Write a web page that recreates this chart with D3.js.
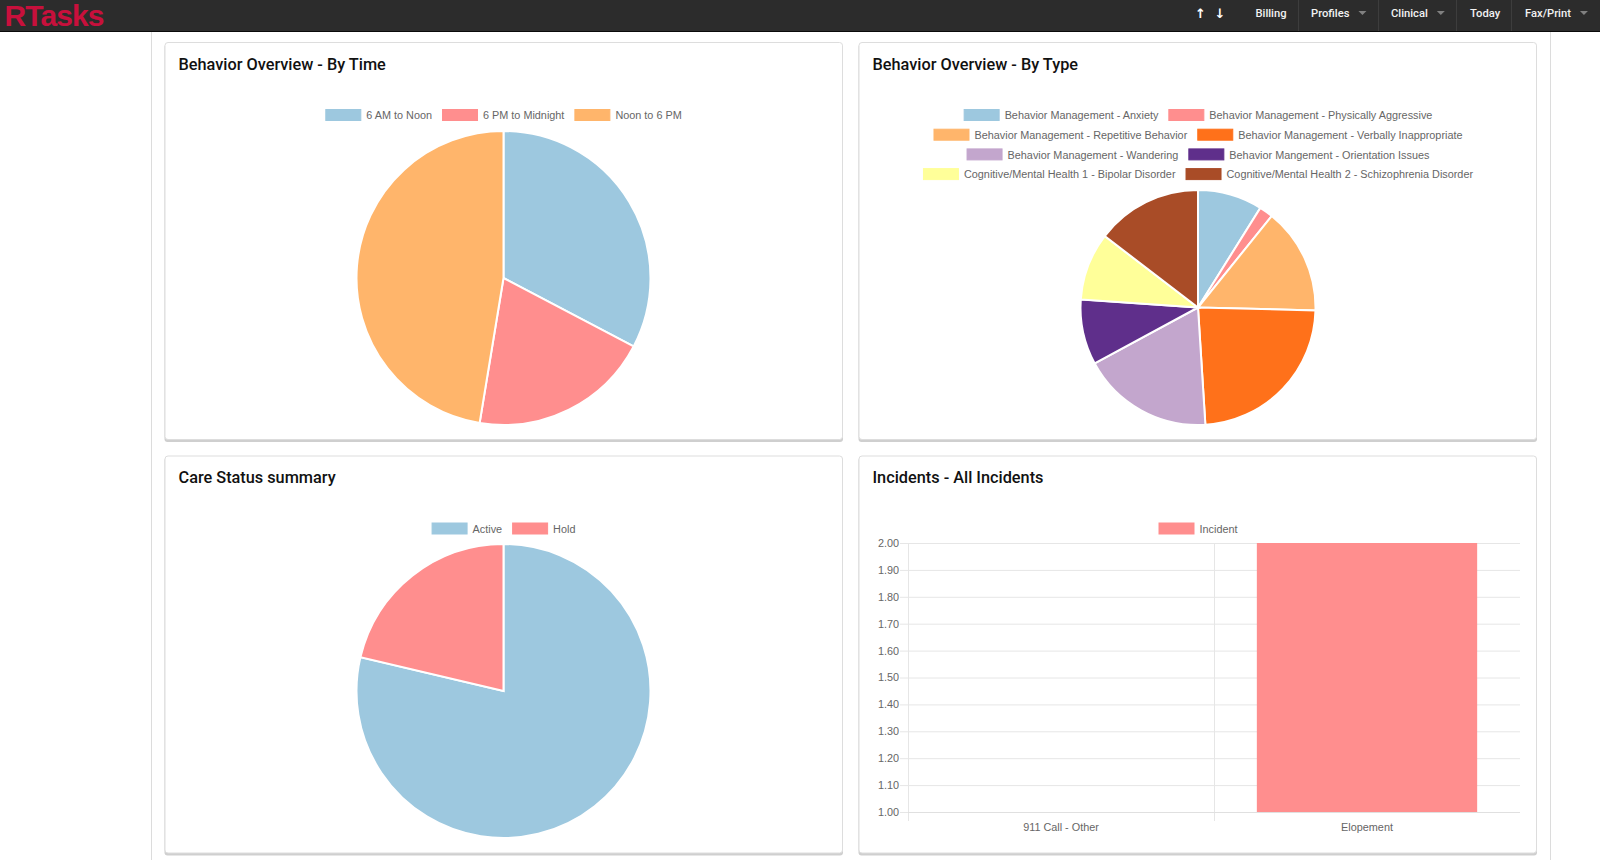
<!DOCTYPE html>
<html>
<head>
<meta charset="utf-8">
<script src="https://cdn.jsdelivr.net/npm/d3@7"></script>
<style>
  html, body { margin: 0; padding: 0; background: #fff; overflow: hidden; }
  text { font-family: "Liberation Sans", Arial, sans-serif; }
  .card-title { font-family: Roboto, sans-serif; font-weight: 500; font-size: 16.3px; fill: #111; }
  .nav-text { font-family: Roboto, sans-serif; font-weight: 500; font-size: 11.2px; fill: #f2f2f2; }
  .legend-text, .tick text { font-size: 10.85px; fill: #666; }
  .grid line { stroke: #e6e6e6; }
  .grid path { display: none; }
</style>
</head>
<body>
<div id="chart"></div>
<script>
// colours shared by the legends and slices
let blue = "#9dc8df", red = "#ff8e8e", orange = "#ffb56b", vermilion = "#ff711a",
    lilac = "#c3a6cd", purple = "#5f2f8b", yellow = "#ffff99", brown = "#a94c27"

// behavior overview - by time
let timeLabels = ["6 AM to Noon", "6 PM to Midnight", "Noon to 6 PM"]
let timeValues = [32.7, 19.9, 47.4]
let timeColors = [blue, red, orange]

// behavior overview - by type
let typeLabels = [
    "Behavior Management - Anxiety", "Behavior Management - Physically Aggressive",
    "Behavior Management - Repetitive Behavior", "Behavior Management - Verbally Inappropriate",
    "Behavior Management - Wandering", "Behavior Mangement - Orientation Issues",
    "Cognitive/Mental Health 1 - Bipolar Disorder", "Cognitive/Mental Health 2 - Schizophrenia Disorder"
]
let typeValues = [8.9, 1.9, 14.6, 23.6, 18.1, 9.0, 9.3, 14.6]
let typeColors = [blue, red, orange, vermilion, lilac, purple, yellow, brown]
let typeRows = [[0, 1], [2, 3], [4, 5], [6, 7]]

// care status summary
let careLabels = ["Active", "Hold"]
let careValues = [78.7, 21.3]
let careColors = [blue, red]

// incidents
let incidentCategories = ["911 Call - Other", "Elopement"]
let incidentValues = [1, 2]
let incidentTicks = [1.0, 1.1, 1.2, 1.3, 1.4, 1.5, 1.6, 1.7, 1.8, 1.9, 2.0]

// top bar
let navItems = ["Billing", "Profiles", "Clinical", "Today", "Fax/Print"]
let navX = [1255.5, 1311, 1391, 1470, 1525]
let navCarets = [false, true, true, false, true]
let navSeparators = [1298, 1378, 1456, 1511]

let svg = d3.select("#chart").append("svg")
    .attr("width", 1600)
    .attr("height", 860)
    .style("display", "block")

// page frame lines
svg.selectAll(".frame")
    .data([151.5, 1550.5])
    .enter()
    .append("line")
    .attr("x1", d => d).attr("x2", d => d)
    .attr("y1", 32).attr("y2", 860)
    .attr("stroke", "#dcdcdc")

// ---------- top bar ----------
svg.append("rect").attr("width", 1600).attr("height", 31).attr("fill", "#2c2c2c")
svg.append("rect").attr("y", 31).attr("width", 1600).attr("height", 1).attr("fill", "#0a0a0a")

svg.append("text")
    .text("RTasks")
    .attr("x", 4.5)
    .attr("y", 26)
    .style("font-weight", "bold")
    .style("font-size", "30px")
    .style("letter-spacing", "-0.9px")
    .attr("fill", "#c8103c")

svg.selectAll(".nav-sep")
    .data(navSeparators)
    .enter()
    .append("line")
    .attr("x1", d => d + 0.5).attr("x2", d => d + 0.5)
    .attr("y1", 0).attr("y2", 31)
    .attr("stroke", "#3d3d3d")

navItems.forEach(function(item, i) {
    let t = svg.append("text")
        .attr("class", "nav-text")
        .attr("x", navX[i])
        .attr("y", 17)
        .text(item)
    if (navCarets[i]) {
        let end = navX[i] + t.node().getComputedTextLength() + 9
        svg.append("path")
            .attr("d", `M${end},11h8l-4,4z`)
            .attr("fill", "#808080")
    }
})

// up and down arrows
svg.selectAll(".nav-arrow")
    .data(["\u2191", "\u2193"])
    .enter()
    .append("text")
    .attr("x", (d, i) => i === 0 ? 1200.5 : 1220)
    .attr("y", 18)
    .attr("text-anchor", "middle")
    .style("font-family", "DejaVu Sans")
    .style("font-size", "13px")
    .style("font-weight", "bold")
    .attr("fill", "#fff")
    .text(d => d)

// ---------- cards ----------
function drawCard(x, y, title) {
    let w = 678.5, h = 398
    svg.append("rect")
        .attr("x", x).attr("y", y + 2)
        .attr("width", w).attr("height", h)
        .attr("rx", 3)
        .attr("fill", "#cfcfcf")
    svg.append("rect")
        .attr("x", x + 0.5).attr("y", y + 0.5)
        .attr("width", w - 1).attr("height", h - 1)
        .attr("rx", 3)
        .attr("fill", "#fff")
        .attr("stroke", "#dddddd")
    svg.append("text")
        .attr("class", "card-title")
        .attr("x", x + 14)
        .attr("y", y + 27.5)
        .text(title)
}

// draw centered legend rows made of a colored box and a label
function drawLegend(cx, top, rows, labels, colors) {
    let boxW = 36, boxH = 12, rowStep = 19.7
    rows.forEach(function(row, r) {
        let g = svg.append("g")
        let cursor = 0
        row.forEach(function(idx) {
            g.append("rect")
                .attr("x", cursor + 0.5)
                .attr("y", top + r * rowStep - boxH / 2)
                .attr("width", boxW - 1)
                .attr("height", boxH - 1)
                .attr("fill", colors[idx])
                .attr("stroke", colors[idx])
            let t = g.append("text")
                .attr("class", "legend-text")
                .attr("x", cursor + boxW + 5)
                .attr("y", top + r * rowStep + 3.8)
                .text(labels[idx])
            cursor += boxW + 5 + t.node().getComputedTextLength() + 10
        })
        g.attr("transform", `translate(${cx - (cursor - 10) / 2},0)`)
    })
}

function drawPie(cx, cy, radius, values, colors) {
    let pie = d3.pie().sort(null)
    let arc = d3.arc().innerRadius(0).outerRadius(radius)
    svg.append("g")
        .attr("transform", `translate(${cx},${cy})`)
        .selectAll("path")
        .data(pie(values))
        .enter()
        .append("path")
        .attr("d", arc)
        .attr("fill", (d, i) => colors[i])
        .attr("stroke", "#fff")
        .attr("stroke-width", 2)
}

let leftX = 164.5, rightX = 858.5, topY = 42, lowY = 455.5

drawCard(leftX, topY, "Behavior Overview - By Time")
drawLegend(503.5, 115.5, [[0, 1, 2]], timeLabels, timeColors)
drawPie(503.5, 278, 147, timeValues, timeColors)

drawCard(rightX, topY, "Behavior Overview - By Type")
drawLegend(1198, 115.5, typeRows, typeLabels, typeColors)
drawPie(1198, 307.5, 117.5, typeValues, typeColors)

drawCard(leftX, lowY, "Care Status summary")
drawLegend(503.5, 529, [[0, 1]], careLabels, careColors)
drawPie(503.5, 691, 147, careValues, careColors)

drawCard(rightX, lowY, "Incidents - All Incidents")
drawLegend(1198, 529, [[0]], ["Incident"], [red])

// ---------- bar chart ----------
let barLeft = 908, barRight = 1520, barTop = 543, barBottom = 812

let x = d3.scaleBand().domain(incidentCategories).range([barLeft, barRight])
let y = d3.scaleLinear().domain([1, 2]).range([barBottom, barTop])

// horizontal grid lines and y labels
svg.append("g")
    .attr("class", "grid")
    .attr("transform", `translate(${barLeft},0)`)
    .call(d3.axisLeft(y)
        .tickValues(incidentTicks)
        .tickSize(-(barRight - barLeft))
        .tickPadding(9)
        .tickFormat(d3.format(".2f")))
    .call(g => g.selectAll(".tick line").attr("x1", -8).attr("stroke-width", 1))
    .call(g => g.selectAll(".tick text").style("font-size", "10.85px").style("font-family", "Liberation Sans"))

// vertical grid lines at the band edges
svg.selectAll(".band-line")
    .data([barLeft, x(incidentCategories[1])])
    .enter()
    .append("line")
    .attr("x1", d => d + 0.5).attr("x2", d => d + 0.5)
    .attr("y1", barTop).attr("y2", barBottom + 9)
    .attr("stroke", "#e6e6e6")

// bars
let barShare = 0.72
svg.selectAll(".bar")
    .data(incidentValues)
    .enter()
    .append("rect")
    .attr("class", "bar")
    .attr("x", (d, i) => x(incidentCategories[i]) + x.bandwidth() * (1 - barShare) / 2)
    .attr("width", x.bandwidth() * barShare)
    .attr("y", d => y(d))
    .attr("height", d => barBottom - y(d))
    .attr("fill", red)

// x labels
svg.append("g")
    .attr("transform", `translate(0,${barBottom})`)
    .call(d3.axisBottom(x).tickSize(0).tickPadding(11))
    .call(g => g.select(".domain").remove())
    .call(g => g.selectAll(".tick text").style("font-size", "10.85px").style("font-family", "Liberation Sans"))

// thicker base line
svg.append("line")
    .attr("x1", barLeft).attr("x2", barRight)
    .attr("y1", barBottom + 0.5).attr("y2", barBottom + 0.5)
    .attr("stroke", "#e0e0e0")
</script>
</body>
</html>
